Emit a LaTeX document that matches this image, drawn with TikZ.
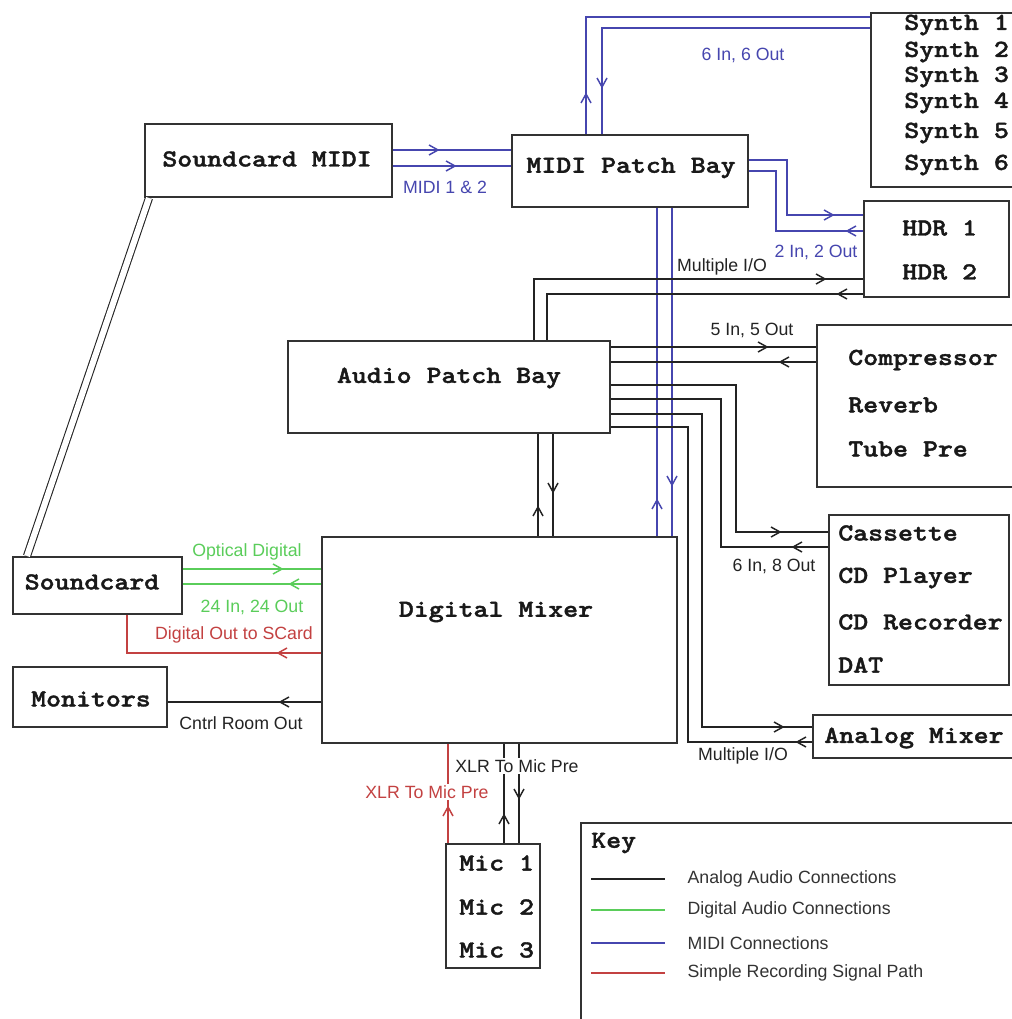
\documentclass[tikz,border=0pt]{standalone}
\usepackage{fontspec}
\setmainfont{Liberation Sans}
\newfontfamily\boxfont{lmmonolt10-bold}[Extension=.otf, FakeBold=1.5]
\usetikzlibrary{fit,calc}
\definecolor{midiblue}{RGB}{70,70,175}
\definecolor{digigreen}{RGB}{90,205,90}
\definecolor{recred}{RGB}{195,65,65}
\definecolor{analog}{RGB}{35,35,35}
\definecolor{boxline}{RGB}{50,50,50}
\newcommand\chv[4]{\draw[#1, line width=1.1pt, shift={(#2,#3)}, rotate=#4] (-9,-5) -- (0,0) -- (-9,5);}
\begin{document}
\begin{tikzpicture}[x=0.75pt,y=-0.75pt,
  box/.style={draw=boxline, line width=1.5pt, inner sep=0pt, fill=white},
  boxtext/.style={font=\boxfont\fontsize{18.4}{20}\selectfont, inner sep=0pt, text=black!90, xscale=1.16, transform shape},
  lbl/.style={font=\fontsize{13.3}{15}\selectfont, inner sep=1pt},
  conn/.style={line width=1.4pt},
  midi/.style={conn, draw=midiblue},
  ana/.style={conn, draw=analog},
  digi/.style={conn, draw=digigreen},
  rec/.style={conn, draw=recred},
  keyline/.style={line width=1pt}
]
\fill[white] (0,0) rectangle (1011,1019);
\useasboundingbox (0,0) rectangle (1011,1019);

% ---------- boxes ----------
\node[box, fit={(145,124) (392,197)}] (smidi) {};
\node[box, fit={(512,135) (748,207)}] (mpb) {};
\node[box, fit={(871,13) (1018,187)}] (synth) {};
\node[box, fit={(864,201) (1009,297)}] (hdr) {};
\node[box, fit={(817,325) (1018,487)}] (comp) {};
\node[box, fit={(829,515) (1009,685)}] (cass) {};
\node[box, fit={(813,715) (1018,758)}] (amix) {};
\node[box, fit={(288,341) (610,433)}] (apb) {};
\node[box, fit={(322,537) (677,743)}] (dmix) {};
\node[box, fit={(13,557) (182,614)}] (sc) {};
\node[box, fit={(13,667) (167,727)}] (mon) {};
\node[box, fit={(446,844) (540,968)}] (mic) {};
\node[box, fit={(581,823) (1020,1030)}] (key) {};

% ---------- box texts ----------
\node[boxtext] (smidi-t) at (267,159) {Soundcard MIDI};
\node[boxtext] (mpb-t) at (631,168) {MIDI Patch Bay};
\node[boxtext, anchor=west] (s1) at (904,25) {Synth 1};
\node[boxtext, anchor=west] (s2) at (904,52) {Synth 2};
\node[boxtext, anchor=west] (s3) at (904,77) {Synth 3};
\node[boxtext, anchor=west] (s4) at (904,103) {Synth 4};
\node[boxtext, anchor=west] (s5) at (904,133) {Synth 5};
\node[boxtext, anchor=west] (s6) at (904,165) {Synth 6};
\node[boxtext, anchor=west] (h1) at (902,228) {HDR 1};
\node[boxtext, anchor=west] (h2) at (902,272) {HDR 2};
\node[boxtext, anchor=west] (c1) at (848,360) {Compressor};
\node[boxtext, anchor=west] (c2) at (848,405) {Reverb};
\node[boxtext, anchor=west] (c3) at (848,449) {Tube Pre};
\node[boxtext, anchor=west] (k1) at (838,533) {Cassette};
\node[boxtext, anchor=west] (k2) at (838,578) {CD Player};
\node[boxtext, anchor=west] (k3) at (838,622) {CD Recorder};
\node[boxtext, anchor=west] (k4) at (838,665) {DAT};
\node[boxtext, anchor=west] (amix-t) at (824,738) {Analog Mixer};
\node[boxtext] (apb-t) at (449,378) {Audio Patch Bay};
\node[boxtext] (dmix-t) at (496,612) {Digital Mixer};
\node[boxtext] (sc-t) at (92,582) {Soundcard};
\node[boxtext] (mon-t) at (91,699) {Monitors};
\node[boxtext, anchor=west] (m1) at (459,863) {Mic 1};
\node[boxtext, anchor=west] (m2) at (459,907) {Mic 2};
\node[boxtext, anchor=west] (m3) at (459,950) {Mic 3};

% ---------- MIDI connections ----------
\draw[midi] (smidi.east |- 0,150) -- (mpb.west |- 0,150);
\draw[midi] (smidi.east |- 0,166) -- (mpb.west |- 0,166);
\chv{midiblue}{438}{150}{0}
\chv{midiblue}{455}{166}{0}
\draw[midi] (586,0 |- mpb.north) |- (synth.west |- 0,17);
\draw[midi] (602,0 |- mpb.north) |- (synth.west |- 0,28);
\chv{midiblue}{586}{94}{90}
\chv{midiblue}{602}{87}{-90}
\draw[midi] (mpb.east |- 0,160) -| (787,215) -- (hdr.west |- 0,215);
\draw[midi] (mpb.east |- 0,171) -| (776,231) -- (hdr.west |- 0,231);
\chv{midiblue}{833}{215}{0}
\chv{midiblue}{847}{231}{180}
\draw[midi] (657,0 |- mpb.south) -- (657,0 |- dmix.north);
\draw[midi] (672,0 |- mpb.south) -- (672,0 |- dmix.north);
\chv{midiblue}{657}{500}{90}
\chv{midiblue}{672}{485}{-90}

% ---------- analog connections ----------
\draw[ana] (534,0 |- apb.north) |- (hdr.west |- 0,279);
\draw[ana] (547,0 |- apb.north) |- (hdr.west |- 0,294);
\chv{analog}{825}{279}{0}
\chv{analog}{838}{294}{180}
\draw[ana] (apb.east |- 0,347) -- (comp.west |- 0,347);
\draw[ana] (apb.east |- 0,362) -- (comp.west |- 0,362);
\chv{analog}{767}{347}{0}
\chv{analog}{780}{362}{180}
\draw[ana] (apb.east |- 0,385) -| (736,532) -- (cass.west |- 0,532);
\draw[ana] (apb.east |- 0,399) -| (721,547) -- (cass.west |- 0,547);
\chv{analog}{780}{532}{0}
\chv{analog}{793}{547}{180}
\draw[ana] (apb.east |- 0,414) -| (702,727) -- (amix.west |- 0,727);
\draw[ana] (apb.east |- 0,427) -| (688,742) -- (amix.west |- 0,742);
\chv{analog}{783}{727}{0}
\chv{analog}{797}{742}{180}
\draw[ana] (538,0 |- apb.south) -- (538,0 |- dmix.north);
\draw[ana] (553,0 |- apb.south) -- (553,0 |- dmix.north);
\chv{analog}{538}{507}{90}
\chv{analog}{553}{492}{-90}
\draw[ana] (dmix.west |- 0,702) -- (mon.east |- 0,702);
\chv{analog}{280}{702}{180}
\draw[ana] (504,0 |- mic.north) -- (504,0 |- dmix.south);
\draw[ana] (519,0 |- mic.north) -- (519,0 |- dmix.south);
\chv{analog}{504}{815}{90}
\chv{analog}{519}{798}{-90}

% soundcard MIDI <-> soundcard cable
\draw[draw=analog, line width=0.8pt, double=white, double distance=4.5pt]
  ($(smidi.south west)+(5,0)$) -- ($(sc.north west)+(15,0)$);

% ---------- digital connections ----------
\draw[digi] (sc.east |- 0,569) -- (dmix.west |- 0,569);
\draw[digi] (sc.east |- 0,584) -- (dmix.west |- 0,584);
\chv{digigreen}{282}{569}{0}
\chv{digigreen}{290}{584}{180}

% ---------- recording path ----------
\draw[rec] (dmix.west |- 0,653) -| (127,0 |- sc.south);
\chv{recred}{278}{653}{180}
\draw[rec] (448,0 |- mic.north) -- (448,0 |- dmix.south);
\chv{recred}{448}{807}{90}

% ---------- labels ----------
\node[lbl, text=midiblue] (l1) at (445,187) {MIDI 1 \& 2};
\node[lbl, text=midiblue] (l2) at (743,55) {6 In, 6 Out};
\node[lbl, text=midiblue] (l3) at (816,252) {2 In, 2 Out};
\node[lbl, text=analog] (l4) at (722,267) {Multiple I/O};
\node[lbl, text=analog] (l5) at (752,330) {5 In, 5 Out};
\node[lbl, text=analog] (l6) at (774,566) {6 In, 8 Out};
\node[lbl, text=analog] (l7) at (743,756) {Multiple I/O};
\node[lbl, text=digigreen] (l8) at (247,552) {Optical Digital};
\node[lbl, text=digigreen] (l9) at (252,607) {24 In, 24 Out};
\node[lbl, text=recred] (l10) at (234,635) {Digital Out to SCard};
\node[lbl, text=analog] (l11) at (241,723) {Cntrl Room Out};
\node[lbl, text=analog, fill=white] (l12) at (517,766) {XLR To Mic Pre};
\node[lbl, text=recred, fill=white] (l13) at (427,792) {XLR To Mic Pre};

% ---------- key ----------
\node[boxtext, anchor=west] (key-t) at (591,843) {Key};
\draw[keyline, draw=analog] (591,879) -- (665,879);
\draw[keyline, draw=digigreen] (591,910) -- (665,910);
\draw[keyline, draw=midiblue] (591,943) -- (665,943);
\draw[keyline, draw=recred] (591,973) -- (665,973);
\node[lbl, anchor=west, text=black!80] (kl1) at (686,879) {Analog Audio Connections};
\node[lbl, anchor=west, text=black!80] (kl2) at (686,910) {Digital Audio Connections};
\node[lbl, anchor=west, text=black!80] (kl3) at (686,943) {MIDI Connections};
\node[lbl, anchor=west, text=black!80] (kl4) at (686,973) {Simple Recording Signal Path};
\end{tikzpicture}
\end{document}
